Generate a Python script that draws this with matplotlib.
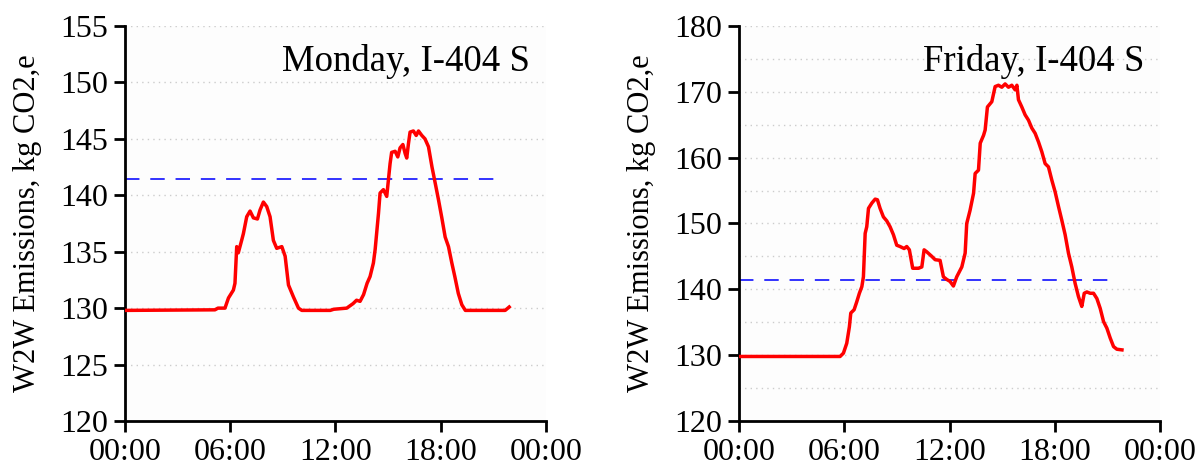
import matplotlib
matplotlib.use("Agg")
import matplotlib.pyplot as plt
import numpy as np

# ---- data (hours since midnight, kg CO2,e) ----
mon_hours = [0.0, 5.13, 5.3, 5.7, 5.9, 6.18, 6.27, 6.37, 6.46, 6.65, 6.75, 6.94, 7.13, 7.32,
             7.55, 7.7, 7.89, 8.08, 8.27, 8.46, 8.65, 8.94, 9.13, 9.32, 9.6, 9.89, 10.08,
             11.7, 11.9, 12.64, 13.0, 13.2, 13.4, 13.6, 13.8, 13.97, 14.16, 14.26, 14.45,
             14.54, 14.73, 14.92, 15.11, 15.2, 15.4, 15.55, 15.68, 15.84, 15.97, 16.06,
             16.16, 16.25, 16.44, 16.6, 16.73, 16.92, 17.1, 17.3, 17.5, 17.68, 17.87, 18.06,
             18.25, 18.44, 18.63, 18.8, 19.0, 19.2, 19.4, 21.67, 21.9]
mon_values = [129.8, 129.85, 130.0, 130.0, 130.9, 131.6, 132.2, 135.45, 134.9, 136.0, 136.6,
              138.1, 138.6, 138.0, 137.9, 138.7, 139.4, 139.0, 138.1, 136.0, 135.3, 135.45,
              134.6, 132.05, 131.0, 130.0, 129.8, 129.8, 129.9, 130.0, 130.4, 130.7, 130.6,
              131.2, 132.2, 132.8, 134.0, 135.2, 138.4, 140.2, 140.5, 139.9, 142.8, 143.8,
              143.9, 143.4, 144.2, 144.5, 143.7, 143.3, 144.6, 145.6, 145.7, 145.3, 145.7,
              145.3, 145.0, 144.3, 142.5, 141.1, 139.6, 138.0, 136.3, 135.45, 134.0, 132.8,
              131.3, 130.3, 129.8, 129.8, 130.1]

fri_hours = [0.0, 5.76, 5.95, 6.14, 6.29, 6.37, 6.56, 6.71, 6.86, 7.0, 7.09, 7.19, 7.28, 7.38,
             7.57, 7.76, 7.89, 8.04, 8.23, 8.42, 8.61, 8.8, 8.99, 9.18, 9.41, 9.56, 9.71,
             9.9, 10.23, 10.42, 10.55, 10.7, 10.99, 11.18, 11.46, 11.65, 11.84, 12.03, 12.22,
             12.41, 12.7, 12.89, 12.98, 13.17, 13.37, 13.46, 13.65, 13.75, 13.94, 14.03,
             14.16, 14.41, 14.6, 14.79, 14.98, 15.17, 15.36, 15.55, 15.74, 15.84, 15.93,
             16.12, 16.31, 16.5, 16.69, 16.88, 17.07, 17.26, 17.45, 17.64, 17.83, 18.02,
             18.21, 18.4, 18.59, 18.78, 18.97, 19.16, 19.35, 19.45, 19.54, 19.68, 19.83,
             20.02, 20.21, 20.4, 20.59, 20.78, 20.97, 21.16, 21.35, 21.54, 21.83]
fri_values = [129.8, 129.8, 130.3, 131.8, 134.3, 136.4, 136.9, 138.1, 139.4, 140.4, 141.9,
              148.5, 149.5, 152.3, 153.1, 153.7, 153.6, 152.3, 151.0, 150.4, 149.5, 148.3,
              146.7, 146.5, 146.2, 146.5, 146.0, 143.2, 143.2, 143.4, 146.0, 145.7, 145.0,
              144.5, 144.4, 141.9, 141.5, 141.2, 140.5, 141.9, 143.4, 145.5, 150.0, 152.0,
              154.6, 157.6, 158.1, 162.2, 163.4, 164.2, 167.7, 168.5, 170.8, 171.0, 170.7,
              171.2, 170.7, 171.0, 170.3, 171.0, 168.8, 167.7, 166.5, 165.7, 164.5, 163.7,
              162.4, 160.9, 159.1, 158.6, 156.6, 154.8, 152.6, 150.5, 148.3, 145.5, 143.4,
              140.9, 138.9, 138.1, 137.4, 139.4, 139.6, 139.4, 139.4, 138.6, 137.1, 135.1,
              134.1, 132.6, 131.3, 130.9, 130.8]

reference_level = 141.4
reference_span = [0.0, 21.5]
titles = ["Monday, I-404 S", "Friday, I-404 S"]
x_ticks = [0, 6, 12, 18, 24]
x_ticklabels = ["00:00", "06:00", "12:00", "18:00", "00:00"]
y_label = "W2W Emissions, kg CO2,e"

plt.rcParams['font.family'] = ['Liberation Serif', 'DejaVu Serif']

fig = plt.figure(figsize=(11.98, 4.66), dpi=100)
ax1 = fig.add_axes([0.1043, 0.0966, 0.3515, 0.8476])
ax2 = fig.add_axes([0.6169, 0.0966, 0.3514, 0.8476])

panels = [
    (ax1, mon_hours, mon_values, (120, 155), np.arange(120, 156, 5), np.arange(120, 156, 5)),
    (ax2, fri_hours, fri_values, (120, 180), np.arange(120, 181, 10), np.arange(120, 181, 5)),
]

for (ax, hrs, vals, ylim, yt, grid_y), title in zip(panels, titles):
    ax.set_facecolor('#fdfdfd')
    for gy in grid_y:
        ax.axhline(gy, color='#cccccc', linestyle=(0, (1, 3)), linewidth=1.0, zorder=0)
    ax.plot(hrs, vals, color='#ff0000', linewidth=2.5, zorder=3)
    ax.plot(reference_span, [reference_level, reference_level], color='#2222ff',
            linewidth=1.3, linestyle=(0, (8, 6)), zorder=2)
    ax.set_xlim(0, 24)
    ax.set_ylim(*ylim)
    ax.set_xticks(x_ticks)
    ax.set_xticklabels(x_ticklabels)
    ax.set_yticks(yt)
    ax.tick_params(axis='both', labelsize=23, direction='out', length=8, width=2.0, pad=4)
    for s in ['top', 'right']:
        ax.spines[s].set_visible(False)
    for s in ['left', 'bottom']:
        ax.spines[s].set_linewidth(2.0)
    ax.set_ylabel(y_label, fontsize=22, labelpad=13)
    ax.text(0.962, 0.955, title, transform=ax.transAxes, ha='right', va='top', fontsize=26.5)

fig.savefig("out.png", dpi=100)
